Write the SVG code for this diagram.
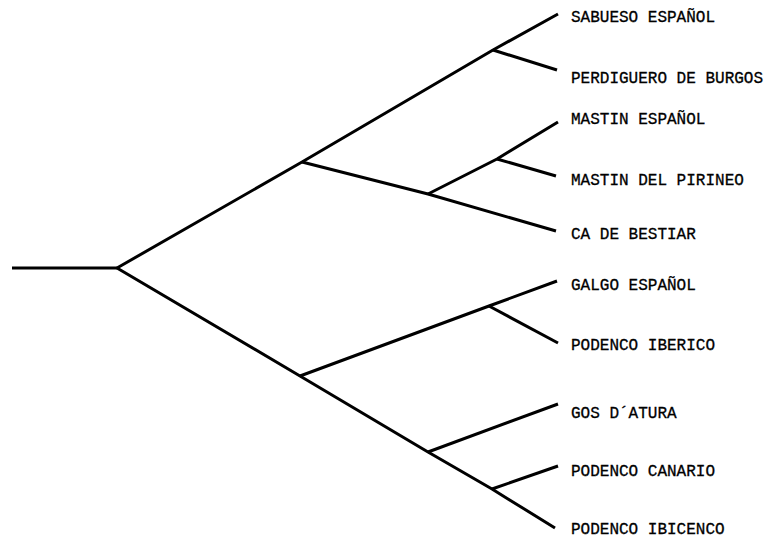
<svg xmlns="http://www.w3.org/2000/svg" width="769" height="538" viewBox="0 0 769 538">
<style>
.edge{fill:none;stroke:#000;stroke-width:3;stroke-linecap:butt;stroke-linejoin:round}
.lbl{font-family:"Liberation Mono","DejaVu Sans Mono",monospace;font-size:16px;fill:#000;stroke:#000;stroke-width:0.3}
</style>
<rect width="769" height="538" fill="#fff"/>
<g id="connectors">
<path class="edge" d="M12,268 L117,268"/>
<path class="edge" d="M117,268 L302,162 L493,50 L558,14"/>
<path class="edge" d="M493,50 L557,70"/>
<path class="edge" d="M302,162 L428,194 L556,231"/>
<path class="edge" d="M428,194 L497,159 L558,122"/>
<path class="edge" d="M497,159 L556,176"/>
<path class="edge" d="M117,268 L300,376 L428,452 L492,489 L555,528"/>
<path class="edge" d="M300,376 L489,306 L557,281"/>
<path class="edge" d="M489,306 L558,343"/>
<path class="edge" d="M428,452 L558,404"/>
<path class="edge" d="M492,489 L558,466"/>
</g>
<g id="n-sabueso"><text class="lbl" x="571" y="22">SABUESO ESPAÑOL</text></g>
<g id="n-perdiguero"><text class="lbl" x="571" y="83">PERDIGUERO DE BURGOS</text></g>
<g id="n-mastin-espanol"><text class="lbl" x="571" y="124">MASTIN ESPAÑOL</text></g>
<g id="n-mastin-pirineo"><text class="lbl" x="571" y="185">MASTIN DEL PIRINEO</text></g>
<g id="n-ca-bestiar"><text class="lbl" x="571" y="239">CA DE BESTIAR</text></g>
<g id="n-galgo"><text class="lbl" x="571" y="290">GALGO ESPAÑOL</text></g>
<g id="n-podenco-iberico"><text class="lbl" x="571" y="350">PODENCO IBERICO</text></g>
<g id="n-gos"><text class="lbl" x="571" y="418">GOS D´ATURA</text></g>
<g id="n-podenco-canario"><text class="lbl" x="571" y="476">PODENCO CANARIO</text></g>
<g id="n-podenco-ibicenco"><text class="lbl" x="571" y="534">PODENCO IBICENCO</text></g>
</svg>
